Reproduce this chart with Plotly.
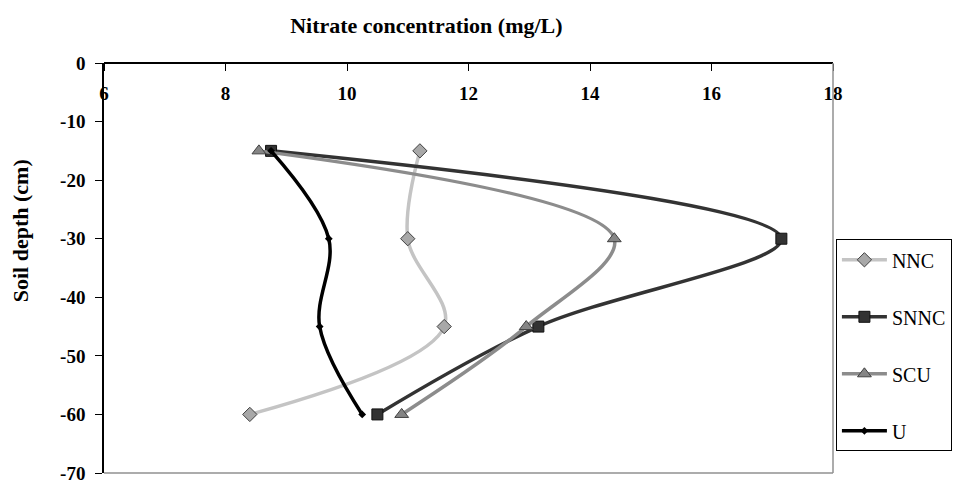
import plotly.graph_objects as go

# ---- data ----
depth = [-15, -30, -45, -60]
nnc = [11.2, 11.0, 11.6, 8.4]
snnc = [8.75, 17.15, 13.15, 10.5]
scu = [8.55, 14.4, 12.95, 10.9]
u = [8.75, 9.7, 9.55, 10.25]
series_names = ["NNC", "SNNC", "SCU", "U"]
x_ticks = [6, 8, 10, 12, 14, 16, 18]
y_ticks = [0, -10, -20, -30, -40, -50, -60, -70]
y_tick_labels = ["0", "-10", "-20", "-30", "-40", "-50", "-60", "-70"]

FONT = "Liberation Serif, Times New Roman, serif"

styles = [
    dict(line=dict(color="#c4c4c4", width=3.5),
         marker=dict(symbol="diamond", size=11, color="#a8a8a8", line=dict(color="#404040", width=1))),
    dict(line=dict(color="#333333", width=3.5),
         marker=dict(symbol="square", size=11, color="#333333", line=dict(color="#111111", width=1))),
    dict(line=dict(color="#8c8c8c", width=3.5),
         marker=dict(symbol="triangle-up", size=12, color="#858585", line=dict(color="#404040", width=1))),
    dict(line=dict(color="#000000", width=3.5),
         marker=dict(symbol="diamond", size=6, color="#000000")),
]

fig = go.Figure()
for name, xs, st in zip(series_names, [nnc, snnc, scu, u], styles):
    fig.add_trace(go.Scatter(
        x=xs, y=depth, name=name, mode="lines+markers",
        line=dict(shape="spline", smoothing=1.0, **st["line"]),
        marker=st["marker"], legendgroup=name,
    ))

tickfont = dict(size=19, family=FONT, weight="bold", color="black")

fig.update_layout(
    width=956, height=483,
    margin=dict(l=104, r=123, t=63, b=10, autoexpand=False),
    paper_bgcolor="white", plot_bgcolor="white",
    font=dict(family=FONT, color="black"),
    title=dict(text="Nitrate concentration (mg/L)", x=0.446, xanchor="center",
               y=0.948, yanchor="middle", font=dict(size=22, family=FONT, weight="bold")),
    showlegend=True,
    legend=dict(x=1.004, xanchor="left", y=0.57, yanchor="top",
                bordercolor="black", borderwidth=1, bgcolor="white",
                font=dict(size=20, family=FONT), itemwidth=45,
                tracegroupgap=28, traceorder="grouped"),
    xaxis=dict(range=[6, 18], tickvals=x_ticks, side="bottom", anchor="free", position=1,
               showline=True, linecolor="black", linewidth=1.5,
               ticks="outside", ticklen=7, tickcolor="black",
               showgrid=False, zeroline=False, ticklabelstandoff=6,
               ticklabeloverflow="allow", tickfont=tickfont),
    yaxis=dict(range=[-70, 0], tickvals=y_ticks, ticktext=y_tick_labels,
               showline=True, linecolor="black", linewidth=1.5,
               ticks="outside", ticklen=7, tickcolor="black",
               showgrid=False, zeroline=False, ticklabelstandoff=6,
               ticklabeloverflow="allow", tickfont=tickfont),
    shapes=[
        dict(type="line", xref="paper", yref="paper", x0=1, x1=1, y0=0, y1=1,
             line=dict(color="#909090", width=1.5)),
        dict(type="line", xref="paper", yref="paper", x0=0, x1=1, y0=0, y1=0,
             line=dict(color="#909090", width=1.5)),
    ],
    annotations=[
        dict(text="Soil depth (cm)", textangle=-90, xref="paper", yref="paper",
             x=-0.115, y=0.59, xanchor="center", yanchor="middle", showarrow=False,
             font=dict(size=22, family=FONT, weight="bold")),
    ],
)

fig.write_html("out.html", config={"displayModeBar": False},
               post_script="document.body.style.margin='0';document.body.style.overflow='hidden';")
